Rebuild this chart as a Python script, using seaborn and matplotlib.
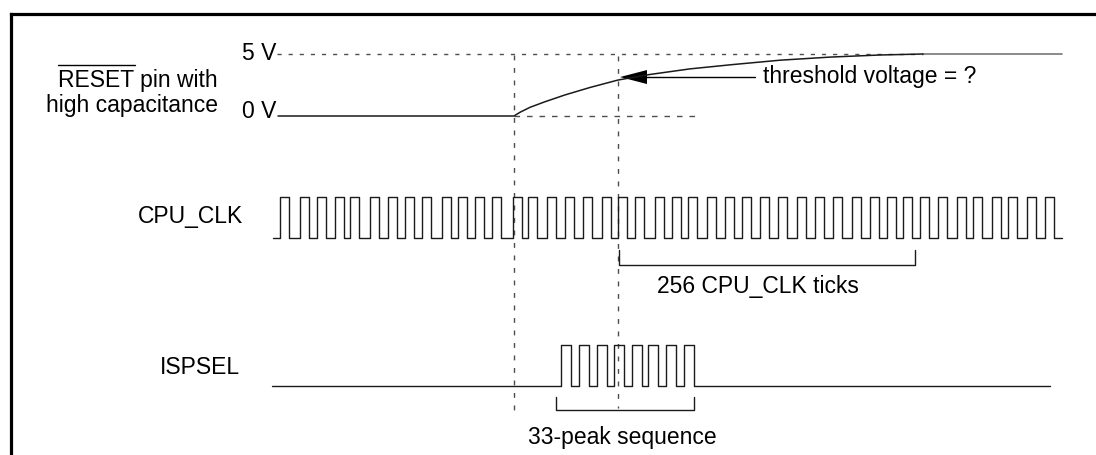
import numpy as np
import seaborn as sns
import matplotlib.pyplot as plt
from matplotlib.patches import Polygon

# ---- signal data (time in drawing units along the x axis) ----
# RESET pin: flat at 0 V, then RC-style rise towards 5 V
reset_t = [278, 514, 520, 530, 545, 565, 590, 618, 650, 690, 733, 780, 830, 880, 923]
reset_v = [0.0, 0.0, 0.3, 0.7, 1.15, 1.7, 2.3, 2.9, 3.35, 3.8, 4.15, 4.5, 4.75, 4.92, 5.0]
reset_end = 1062

# CPU_CLK rising edges (44 pulses)
clk_rise = [280, 300, 317, 335, 350, 370, 388, 405, 422, 442,
            458, 475, 492, 513, 528, 547, 565, 583, 602, 618,
            635, 655, 672, 688, 707, 725, 742, 760, 778, 797,
            815, 833, 852, 870, 887, 903, 920, 938, 957, 973,
            992, 1008, 1027, 1045]
clk_width = 8.5
clk_start, clk_end = 273, 1062

# ISPSEL burst rising edges
isp_rise = [561, 579, 597, 614, 632, 648, 666, 684]
isp_width = 10
isp_start, isp_end = 272, 1050

# markers in time
t_reset_release = 514
t_threshold = 618
tick_bracket = (619, 915)
burst_bracket = (556, 694)

# ---- row layout (pixel rows of the page) ----
RESET_0V, RESET_PX_PER_V = 116, 62 / 5
CLK_LOW, CLK_HIGH = 238, 197
ISP_LOW, ISP_HIGH = 386, 345

INK = "#1a1a1a"
DASH = "#4d4d4d"


def square_wave(rises, width, start, end):
    xs, ys = [start], [0]
    for r in rises:
        xs += [r, r + width]
        ys += [1, 0]
    xs.append(end)
    ys.append(0)
    return np.array(xs, float), np.array(ys, float)


sns.set_theme(style="white")
plt.rcParams["font.family"] = ["Liberation Sans", "DejaVu Sans"]
FS = 16.5

fig = plt.figure(figsize=(10.96, 4.55), dpi=100)
ax = fig.add_axes([0, 0, 1, 1])
ax.set_xlim(0, 1096)
ax.set_ylim(455, 0)
ax.axis("off")

# frame (cut off at right and bottom)
ax.plot([10.5, 1096], [13.5, 13.5], color="black", lw=2.3, solid_capstyle="projecting")
ax.plot([10.5, 10.5], [13.5, 455], color="black", lw=2.3, solid_capstyle="projecting")

# ---- RESET ----
y5 = RESET_0V - 5 * RESET_PX_PER_V
ax.plot([277, 923], [y5, y5], color=DASH, lw=1.0, dashes=(3, 5))
ax.plot([923, reset_end], [y5, y5], color="#777777", lw=1.2)
ax.plot([t_reset_release, 700], [RESET_0V, RESET_0V], color=DASH, lw=1.0, dashes=(4, 5))
sns.lineplot(x=reset_t, y=[RESET_0V - v * RESET_PX_PER_V for v in reset_v],
             estimator=None, sort=False, color=INK, lw=1.1, ax=ax)

ax.text(276, y5 + 6, "5 V", ha="right", va="baseline", fontsize=FS, color="black")
ax.text(276, RESET_0V + 2, "0 V", ha="right", va="baseline", fontsize=FS, color="black")

t1 = ax.text(218, 87, "RESET pin with", ha="right", va="baseline", fontsize=FS, color="black")
ax.text(218, 112, "high capacitance", ha="right", va="baseline", fontsize=FS, color="black")

# overline above "RESET"
fig.canvas.draw()
r = fig.canvas.get_renderer()
full = t1.get_window_extent(r)
probe = ax.text(0, 0, "RESET", fontsize=FS)
w_reset = probe.get_window_extent(r).width
probe.remove()
inv = ax.transData.inverted()
x_left = inv.transform((full.x0, 0))[0]
x_right = inv.transform((full.x0 + w_reset, 0))[0]
ax.plot([x_left, x_right], [65, 65], color="black", lw=1.0)

# threshold arrow
yth = RESET_0V - 2.9 * RESET_PX_PER_V - 3
ax.plot([646, 755], [yth, yth], color="black", lw=1.0)
ax.add_patch(Polygon([(t_threshold + 2, yth), (647, yth - 7), (647, yth + 7)],
                     closed=True, color="black", lw=0))
ax.text(763, 83, "threshold voltage = ?", ha="left", va="baseline", fontsize=FS, color="black")

# vertical dashed time markers
ax.plot([t_reset_release, t_reset_release], [55, 413], color=DASH, lw=1.0, dashes=(3.5, 5.5))
ax.plot([t_threshold, t_threshold], [56, 408], color=DASH, lw=1.0, dashes=(3.5, 5.5))

# ---- CPU_CLK ----
cx, cy = square_wave(clk_rise, clk_width, clk_start, clk_end)
sns.lineplot(x=cx, y=CLK_LOW - cy * (CLK_LOW - CLK_HIGH), estimator=None, sort=False,
             drawstyle="steps-post", color=INK, lw=1.0, ax=ax)
ax.text(243, 223, "CPU_CLK", ha="right", va="baseline", fontsize=FS, color="black")

b0, b1 = tick_bracket
ax.plot([b0, b0, b1, b1], [250, 265, 265, 250], color=INK, lw=1.0)
ax.text(657, 293, "256 CPU_CLK ticks", ha="left", va="baseline", fontsize=FS, color="black")

# ---- ISPSEL ----
ix, iy = square_wave(isp_rise, isp_width, isp_start, isp_end)
sns.lineplot(x=ix, y=ISP_LOW - iy * (ISP_LOW - ISP_HIGH), estimator=None, sort=False,
             drawstyle="steps-post", color=INK, lw=1.0, ax=ax)
ax.text(240, 374, "ISPSEL", ha="right", va="baseline", fontsize=FS, color="black")

s0, s1 = burst_bracket
ax.plot([s0, s0, s1, s1], [397, 410, 410, 397], color=INK, lw=1.0)
ax.text(528, 444, "33-peak sequence", ha="left", va="baseline", fontsize=FS, color="black")

fig.savefig("out.png", dpi=100)
